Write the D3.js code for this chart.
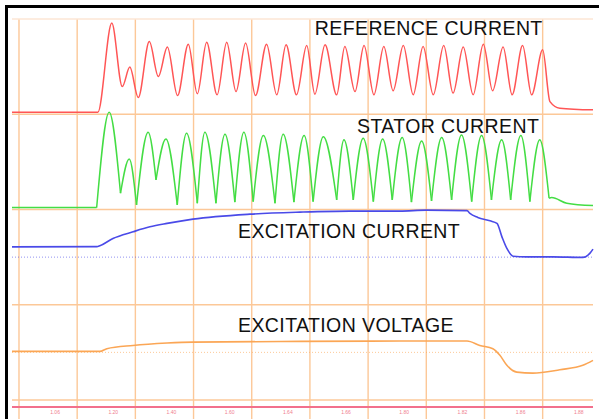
<!DOCTYPE html>
<html>
<head>
<meta charset="utf-8">
<script src="https://cdn.jsdelivr.net/npm/d3@7"></script>
<style>
  body { margin: 0; background: #fff; }
  text { font-family: "Liberation Sans", Arial, sans-serif; }
</style>
</head>
<body>
<div id="scope"></div>
<script>
// time in ms from the left grid line, values in screen divisions from each channel's zero
var gridTimes = [0, 20, 40, 60, 80, 100, 120, 140, 160, 180];
var gridDivs = [0, 1, 2, 3, 4];
var tickLabels = ["1.06", "1.20", "1.40", "1.60", "1.64", "1.66", "1.80", "1.82", "1.86", "1.88"];
var channelNames = ["REFERENCE CURRENT", "STATOR CURRENT", "EXCITATION CURRENT", "EXCITATION VOLTAGE"];

var refTime = [-2.4, 27.1, 31.9, 35.5, 38.1, 41.0, 44.8, 47.9, 51.0, 54.5, 58.2, 61.3, 64.5, 68.1, 71.4, 74.6,
    77.9, 81.3, 85.1, 88.6, 91.8, 95.4, 98.9, 101.7, 105.2, 109.2, 112.0, 115.5, 118.6, 122.0, 125.4, 128.6,
    132.1, 135.5, 138.9, 142.4, 146.0, 149.2, 152.7, 156.1, 159.6, 162.8, 166.4, 169.5, 173.1, 176.2, 180.0,
    182.5, 185.9, 197.3];
var refValue = [0, 0, 0.937, 0.271, 0.475, 0.155, 0.743, 0.376, 0.685, 0.176, 0.716, 0.194, 0.737, 0.184, 0.737, 0.218,
    0.727, 0.176, 0.716, 0.184, 0.709, 0.184, 0.701, 0.191, 0.709, 0.184, 0.691, 0.218, 0.701, 0.184, 0.691, 0.226,
    0.701, 0.184, 0.691, 0.184, 0.701, 0.202, 0.685, 0.184, 0.716, 0.226, 0.685, 0.184, 0.701, 0.184, 0.656,
    0.113, 0.044, 0.026];

var statorTime = [-2.4, 26.7, 31.0, 34.9, 37.9, 40.4, 44.4, 47.1, 50.5, 54.4, 57.6, 61.3, 63.9, 67.7, 70.8, 74.2,
    77.3, 80.5, 84.0, 88.0, 90.8, 94.5, 98.0, 101.1, 104.6, 109.2, 111.7, 114.9, 118.3, 121.8, 125.0, 128.3,
    131.7, 134.9, 138.4, 141.8, 145.3, 148.7, 152.1, 155.6, 159.0, 162.4, 165.9, 169.0, 172.5, 175.6, 179.0,
    182.2, 183.1, 188.3, 197.3];
var statorValue = [0, 0, 1.002, 0.151, 0.511, 0.028, 0.792, 0.291, 0.721, 0.028, 0.781, 0.046, 0.792, 0.046, 0.771, 0.057,
    0.792, 0.063, 0.756, 0.046, 0.771, 0.057, 0.756, 0.063, 0.745, 0.081, 0.711, 0.081, 0.729, 0.063, 0.721, 0.081,
    0.735, 0.057, 0.700, 0.070, 0.735, 0.081, 0.763, 0.063, 0.756, 0.081, 0.711, 0.081, 0.756, 0.063, 0.711,
    0.099, 0.105, 0.046, 0.021];

var excCurTime = [-2.4, 26.8, 27.8, 32.3, 39.2, 45.0, 50.9, 59.8, 79.4, 96.6, 113.7, 130.9, 140.0, 154.0, 155.0,
    157.7, 161.9, 164.3, 166.0, 167.7, 169.8, 174.6, 183.5, 193.8, 196.2, 197.3];
var excCurValue = [0.108, 0.110, 0.119, 0.196, 0.266, 0.318, 0.354, 0.399, 0.451, 0.472, 0.483, 0.483, 0.493, 0.488, 0.459,
    0.417, 0.381, 0.354, 0.213, 0.091, 0.010, 0.003, 0.003, -0.003, 0.039, 0.084];

var excVoltTime = [-2.4, 27.8, 30.2, 39.2, 50.9, 59.8, 96.6, 130.9, 154.0, 158.4, 162.9, 165.3, 167.7, 171.1,
    176.6, 185.9, 193.8, 197.3];
var excVoltValue = [0.010, 0.010, 0.039, 0.073, 0.098, 0.108, 0.115, 0.119, 0.119, 0.073, 0.039, -0.031, -0.136, -0.207,
    -0.218, -0.182, -0.136, -0.084];

// layout
var W = 599, H = 419;
var channelZero = [3.02, 2.02, 1.5, 0.5];
var channelColor = ["#ff5555", "#44dd44", "#4a4ae8", "#fba655"];
var labelTime = [101.7, 116.2, 75.3, 75.3];
var labelDiv = [3.83, 2.80, 1.70, 0.715];

var svg = d3.select("#scope")
    .append("svg")
    .attr("width", W)
    .attr("height", H);

svg.append("rect").attr("width", W).attr("height", H).attr("fill", "#fff");

var x = d3.scaleLinear()
    .domain([-2.4, 197.3])
    .range([12, 593]);

var y = d3.scaleLinear()
    .domain([0, 4])
    .range([400, 19]);

// grid
svg.selectAll("vline")
    .data(gridTimes)
    .enter()
    .append("line")
    .attr("x1", function(d) { return x(d); })
    .attr("x2", function(d) { return x(d); })
    .attr("y1", y(4))
    .attr("y2", H)
    .attr("stroke", "#fcc898")
    .attr("stroke-width", 1.4);

svg.selectAll("hline")
    .data(gridDivs)
    .enter()
    .append("line")
    .attr("x1", x(-2.4))
    .attr("x2", x(197.3))
    .attr("y1", function(d) { return y(d); })
    .attr("y2", function(d) { return y(d); })
    .attr("stroke", function(d) { return d == 4 ? "#fde6d4" : "#fcc898"; })
    .attr("stroke-width", 1.4);

// dotted zero lines of the two excitation channels
[2, 3].forEach(function(c) {
    svg.append("line")
        .attr("x1", x(-2.4))
        .attr("x2", x(197.3))
        .attr("y1", y(channelZero[c]))
        .attr("y2", y(channelZero[c]))
        .attr("stroke", channelColor[c])
        .attr("stroke-opacity", 0.6)
        .attr("stroke-dasharray", "1,2")
        .attr("stroke-width", 1);
});

// time axis
svg.append("line")
    .attr("x1", x(-2.4))
    .attr("x2", x(197.3))
    .attr("y1", y(0) + 7)
    .attr("y2", y(0) + 7)
    .attr("stroke", "#f2708c")
    .attr("stroke-width", 2);

svg.selectAll("ticklab")
    .data(tickLabels)
    .enter()
    .append("text")
    .attr("x", function(d, i) { return x(gridTimes[i] + 12.4); })
    .attr("y", y(0) + 14)
    .attr("text-anchor", "middle")
    .style("font-size", "5px")
    .attr("fill", "#f08090")
    .text(function(d) { return d; });

// traces
function pts(t, v, c) {
    return t.map(function(d, i) { return [x(d), y(channelZero[c] + v[i])]; });
}

function splitAtMinima(p) {
    var parts = [], cur = [p[0]];
    for (var i = 1; i < p.length; i++) {
        cur.push(p[i]);
        if (i < p.length - 1 && p[i][1] >= p[i-1][1] && p[i][1] > p[i+1][1]) {
            parts.push(cur);
            cur = [p[i]];
        }
    }
    parts.push(cur);
    return parts;
}

var smooth = d3.line().curve(d3.curveMonotoneX);

svg.append("path")
    .attr("d", smooth(pts(refTime, refValue, 0)))
    .attr("fill", "none")
    .attr("stroke", channelColor[0])
    .attr("stroke-width", 1.5);

svg.selectAll("stator")
    .data(splitAtMinima(pts(statorTime, statorValue, 1)))
    .enter()
    .append("path")
    .attr("d", function(d) { return smooth(d); })
    .attr("fill", "none")
    .attr("stroke", channelColor[1])
    .attr("stroke-width", 1.5);

svg.append("path")
    .attr("d", smooth(pts(excCurTime, excCurValue, 2)))
    .attr("fill", "none")
    .attr("stroke", channelColor[2])
    .attr("stroke-width", 1.6);

svg.append("path")
    .attr("d", smooth(pts(excVoltTime, excVoltValue, 3)))
    .attr("fill", "none")
    .attr("stroke", channelColor[3])
    .attr("stroke-width", 1.6);

// channel names
svg.selectAll("chname")
    .data(channelNames)
    .enter()
    .append("text")
    .attr("x", function(d, i) { return x(labelTime[i]); })
    .attr("y", function(d, i) { return y(labelDiv[i]); })
    .style("font-size", "19.5px")
    .style("letter-spacing", "0.4px")
    .attr("fill", "#111")
    .text(function(d) { return d; });

// frame
svg.append("path")
    .attr("d", "M6.5," + H + "V6.5H" + W)
    .attr("fill", "none")
    .attr("stroke", "#000")
    .attr("stroke-width", 3);
</script>
</body>
</html>
